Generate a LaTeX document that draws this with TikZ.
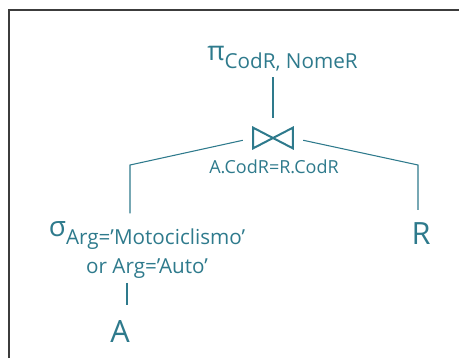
\documentclass[tikz,border=0pt]{standalone}
\usepackage{fontspec}
\setmainfont{Open Sans}
\usetikzlibrary{positioning}
\definecolor{relcol}{RGB}{46,122,140}
\definecolor{framecol}{RGB}{60,60,60}

\begin{document}
\begin{tikzpicture}[x=0.75pt,y=-0.75pt,
	every node/.style={text=relcol, inner sep=0pt},
	edge/.style={draw=relcol, line width=0.8pt},
	tie/.style={draw=relcol, line width=1.5pt, line join=miter}]
	\useasboundingbox (0,0) rectangle (459,358);
	\draw[framecol, line width=0.9pt] (9,358) -- (9,10) -- (459,10);
	
	\node [anchor=base west] (proj) at (207,68) {\fontsize{20}{20}\selectfont\raisebox{6pt}{π}\fontsize{15.5}{17}\selectfont CodR, NomeR};
	\node [minimum width=29.25pt, minimum height=15pt] (join) at (273,138) {};
	\draw[tie] (join.north west) -- (join.south east) -- (join.north east) -- (join.south west) -- cycle;
	\node [anchor=base, font=\fontsize{13.5}{15}\selectfont] (cond) at (274,173) {A.CodR=R.CodR};
	\node [align=center, font=\fontsize{15.5}{21.75}\selectfont] (sel) at (147,250) {{\fontsize{21}{21}\selectfont\raisebox{6pt}{σ}}Arg=’Motociclismo’\\or Arg=’Auto’};
	\node [anchor=base, font=\fontsize{23}{23}\selectfont] (r) at (421,244) {R};
	\node [anchor=base, font=\fontsize{23}{23}\selectfont] (a) at (120,342) {A};
	\coordinate (lk) at (130,165);
	\coordinate (rk) at (418,165);
	
	\draw[edge, shorten >=4.5pt, shorten <=7.5pt] (join.north) -- (join.north |- proj.south);
	\draw[edge, shorten <=8pt, shorten >=6pt] (join.west) -- (lk) -- (lk |- sel.north);
	\draw[edge, shorten <=8pt, shorten >=9pt] (join.east) -- (rk) -- (rk |- r.north);
	\draw[edge, shorten <=3pt, shorten >=11pt] ([xshift=5.25pt]a.north |- sel.south) -- ([xshift=5.25pt]a.north);
\end{tikzpicture}
\end{document}
